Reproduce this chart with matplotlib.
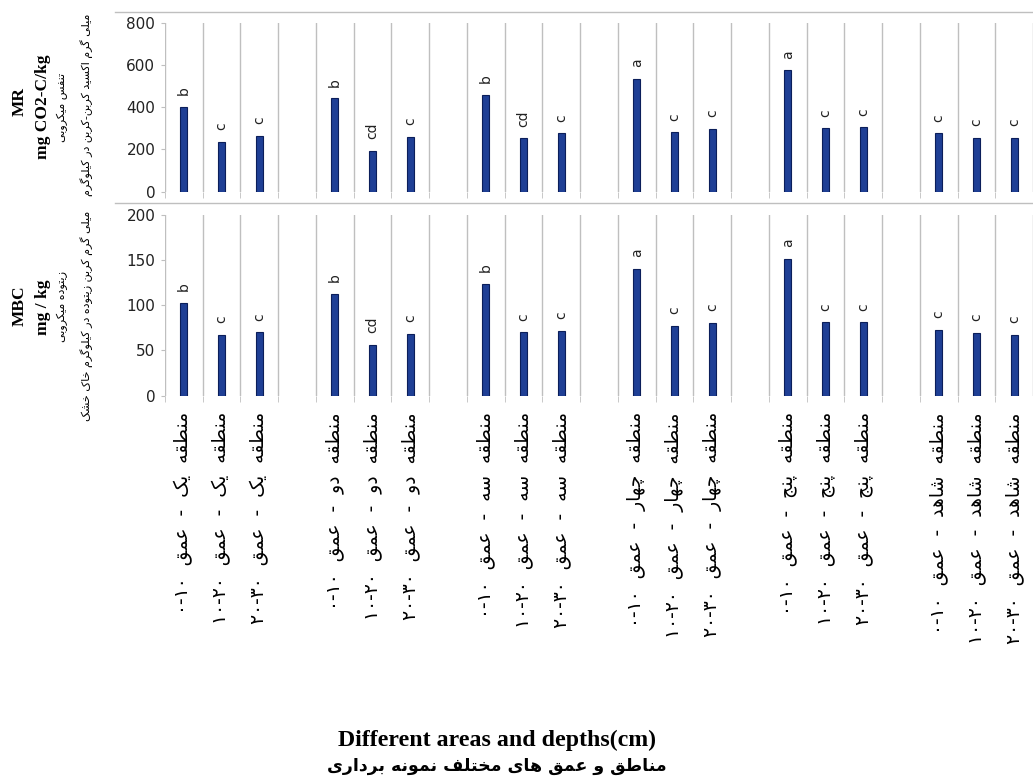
import re
import matplotlib
matplotlib.use('Agg')
import matplotlib.pyplot as plt
from matplotlib.lines import Line2D

# data
zones = ['یک', 'دو', 'سه', 'چهار', 'پنج', 'شاهد']
depths = ['۰-۱۰', '۱۰-۲۰', '۲۰-۳۰']
mr = [400, 237, 265, 442, 195, 258, 460, 252, 276, 535, 281, 298, 574, 300, 304, 276, 253, 253]
mbc = [103, 67, 70, 113, 56, 68.5, 124, 70, 72, 140, 77, 80, 151, 81, 81, 73, 69, 67]
mr_letters = ['b', 'c', 'c', 'b', 'cd', 'c', 'b', 'cd', 'c', 'a', 'c', 'c', 'a', 'c', 'c', 'c', 'c', 'c']
mbc_letters = ['b', 'c', 'c', 'b', 'cd', 'c', 'b', 'c', 'c', 'a', 'c', 'c', 'a', 'c', 'c', 'c', 'c', 'c']

# arabic presentation forms: isolated, final, initial, medial
FORMS = {
    'ا': ('\uFE8D', '\uFE8E', None, None),
    'ب': ('\uFE8F', '\uFE90', '\uFE91', '\uFE92'),
    'ت': ('\uFE95', '\uFE96', '\uFE97', '\uFE98'),
    'ج': ('\uFE9D', '\uFE9E', '\uFE9F', '\uFEA0'),
    'خ': ('\uFEA5', '\uFEA6', '\uFEA7', '\uFEA8'),
    'د': ('\uFEA9', '\uFEAA', None, None),
    'ر': ('\uFEAD', '\uFEAE', None, None),
    'ز': ('\uFEAF', '\uFEB0', None, None),
    'س': ('\uFEB1', '\uFEB2', '\uFEB3', '\uFEB4'),
    'ش': ('\uFEB5', '\uFEB6', '\uFEB7', '\uFEB8'),
    'ط': ('\uFEC1', '\uFEC2', '\uFEC3', '\uFEC4'),
    'ع': ('\uFEC9', '\uFECA', '\uFECB', '\uFECC'),
    'ف': ('\uFED1', '\uFED2', '\uFED3', '\uFED4'),
    'ق': ('\uFED5', '\uFED6', '\uFED7', '\uFED8'),
    'ل': ('\uFEDD', '\uFEDE', '\uFEDF', '\uFEE0'),
    'م': ('\uFEE1', '\uFEE2', '\uFEE3', '\uFEE4'),
    'ن': ('\uFEE5', '\uFEE6', '\uFEE7', '\uFEE8'),
    'ه': ('\uFEE9', '\uFEEA', '\uFEEB', '\uFEEC'),
    'و': ('\uFEED', '\uFEEE', None, None),
    'ی': ('\uFBFC', '\uFBFD', '\uFBFE', '\uFBFF'),
    'ک': ('\uFB8E', '\uFB8F', '\uFB90', '\uFB91'),
    'گ': ('\uFB92', '\uFB93', '\uFB94', '\uFB95'),
    'پ': ('\uFB56', '\uFB57', '\uFB58', '\uFB59'),
    'چ': ('\uFB7A', '\uFB7B', '\uFB7C', '\uFB7D'),
}


def fa(text):
    # join the letters and put them in visual order
    out = []
    for i, ch in enumerate(text):
        if ch not in FORMS:
            out.append(ch)
            continue
        prev = text[i - 1] if i > 0 else ''
        nxt = text[i + 1] if i < len(text) - 1 else ''
        jp = prev in FORMS and FORMS[prev][2] is not None
        jn = FORMS[ch][2] is not None and nxt in FORMS
        iso, fin, ini, med = FORMS[ch]
        if jp and jn:
            out.append(med)
        elif jp:
            out.append(fin)
        elif jn:
            out.append(ini)
        else:
            out.append(iso)
    s = ''.join(out)[::-1]
    return re.sub(r'[۰-۹]+(?:-[۰-۹]+)*', lambda m: m.group(0)[::-1], s)


labels = [fa('منطقه  ' + z + '  -  عمق  ' + d) for z in zones for d in depths]
pos = [g * 4 + k for g in range(len(zones)) for k in range(len(depths))]

W, H = 1033, 780
fig = plt.figure(figsize=(W / 100, H / 100), dpi=100)

x0 = 165
slot = 38.23
xr = -0.5 + (W - x0) / slot
ax1 = fig.add_axes([x0 / W, 1 - 191.7 / H, 1 - x0 / W, 169 / H])
ax2 = fig.add_axes([x0 / W, 1 - 395.5 / H, 1 - x0 / W, 180.5 / H])

bar_col = '#1F3F95'
edge_col = '#0B1E5A'
grid_col = '#BFBFBF'

for ax, vals, letters, ymax, step in [(ax1, mr, mr_letters, 800, 200),
                                      (ax2, mbc, mbc_letters, 200, 50)]:
    ax.bar(pos, vals, width=0.19, color=bar_col, edgecolor=edge_col, linewidth=0.8, zorder=3)
    for x, v, t in zip(pos, vals, letters):
        ax.annotate(t, (x, v), xytext=(0, 8.5), textcoords='offset points',
                    rotation=90, ha='center', va='bottom', fontsize=10, color='#222222')
    ax.set_xlim(-0.5, xr)
    ax.set_ylim(0, ymax)
    ax.set_yticks(range(0, ymax + 1, step))
    ax.set_xticks([i - 0.5 for i in range(24)], minor=True)
    ax.grid(axis='x', which='minor', color=grid_col, linewidth=1, zorder=0)
    ax.tick_params(axis='y', length=3, color=grid_col, labelsize=11, labelcolor='#222222', pad=4)
    ax.tick_params(axis='x', which='minor', length=4, color=grid_col)
    ax.tick_params(axis='x', which='major', length=0)
    for sp in ax.spines.values():
        sp.set_visible(False)

ax1.set_xticks(pos)
ax1.set_xticklabels([])
ax2.set_xticks(pos)
ax2.set_xticklabels(labels, rotation=90, va='top', ha='center', fontsize=13.5)
ax2.tick_params(axis='x', which='major', pad=12)

# chart area borders
for y in [12, 203]:
    fig.add_artist(Line2D([115 / W, 1], [1 - y / H, 1 - y / H], color=grid_col, linewidth=1,
                          transform=fig.transFigure))

serif = 'Liberation Serif'
# y labels, top panel
fig.text(20 / W, 1 - 102 / H, 'MR', rotation=90, ha='center', va='center',
         fontsize=12.5, fontweight='bold', family=serif)
fig.text(43 / W, 1 - 107 / H, 'mg CO2-C/kg', rotation=90, ha='center', va='center',
         fontsize=12.5, fontweight='bold', family=serif)
fig.text(62 / W, 1 - 107 / H, fa('تنفس میکروبی'), rotation=90, ha='center', va='center',
         fontsize=8)
fig.text(87 / W, 1 - 105 / H, fa('میلی گرم اکسید کربن-کربن در کیلوگرم'), rotation=90,
         ha='center', va='center', fontsize=8)
# y labels, bottom panel
fig.text(20 / W, 1 - 306 / H, 'MBC', rotation=90, ha='center', va='center',
         fontsize=12.5, fontweight='bold', family=serif)
fig.text(43 / W, 1 - 307 / H, 'mg / kg', rotation=90, ha='center', va='center',
         fontsize=12.5, fontweight='bold', family=serif)
fig.text(62 / W, 1 - 307 / H, fa('زیتوده میکروبی'), rotation=90, ha='center', va='center',
         fontsize=8)
fig.text(87 / W, 1 - 316 / H, fa('میلی گرم کربن زیتوده در کیلوگرم خاک خشک'), rotation=90,
         ha='center', va='center', fontsize=8)

# x title
fig.text(497 / W, 1 - 740 / H, 'Different areas and depths(cm)', ha='center', va='center',
         fontsize=17.2, fontweight='bold', family=serif)
fig.text(497 / W, 1 - 766 / H, fa('مناطق و عمق های مختلف نمونه برداری'), ha='center',
         va='center', fontsize=12.5, fontweight='bold')

fig.savefig('out.png', dpi=100)
